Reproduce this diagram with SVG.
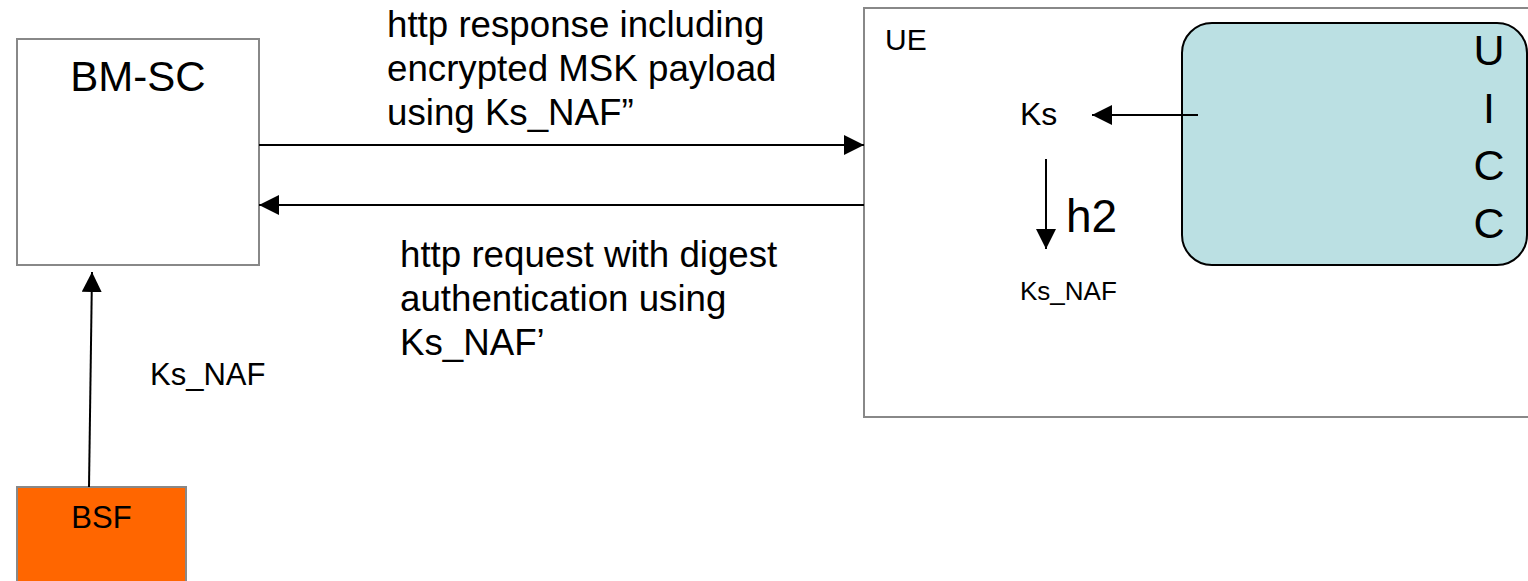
<svg xmlns="http://www.w3.org/2000/svg" width="1528" height="581" viewBox="0 0 1528 581">
<style>
  text { font-family: "Liberation Sans", Arial, sans-serif; fill: #000; }
  .box { fill: #fff; stroke: #888; stroke-width: 2; }
  .bsf { fill: #FF6600; stroke: #888; stroke-width: 2; }
  .uicc { fill: #BBE0E3; stroke: #000; stroke-width: 2; }
  .conn { stroke: #000; stroke-width: 2; fill: none; }
  .big { font-size: 36.7px; }
</style>
<defs>
  <marker id="arr" viewBox="0 0 20 20" refX="20" refY="10" markerWidth="20" markerHeight="20" markerUnits="userSpaceOnUse" orient="auto">
    <path d="M0,0 L20,10 L0,20 Z" fill="#000"/>
  </marker>
</defs>
<rect width="1528" height="581" fill="#fff"/>

<g id="bmsc">
  <rect class="box" x="17" y="39" width="242" height="226"/>
  <text x="138" y="91" font-size="42" text-anchor="middle">BM-SC</text>
</g>

<g id="bsf">
  <rect class="bsf" x="17" y="487" width="169" height="100"/>
  <text x="101.5" y="528" font-size="31" text-anchor="middle">BSF</text>
</g>

<g id="ue">
  <rect class="box" x="864" y="8" width="670" height="409"/>
  <text x="885" y="50" font-size="30">UE</text>
  <text x="1020" y="125" font-size="32">Ks</text>
  <text x="1066" y="232" font-size="46">h2</text>
  <text x="1020" y="300" font-size="26">Ks_NAF</text>
</g>

<g id="uicc">
  <rect class="uicc" x="1182" y="23" width="345" height="242" rx="30" ry="30"/>
  <text x="1489" y="65" font-size="43" text-anchor="middle">U</text>
  <text x="1489" y="123" font-size="43" text-anchor="middle">I</text>
  <text x="1489" y="180" font-size="43" text-anchor="middle">C</text>
  <text x="1489" y="238" font-size="43" text-anchor="middle">C</text>
</g>

<g id="connectors">
  <line class="conn" x1="259" y1="145" x2="864" y2="145" marker-end="url(#arr)"/>
  <line class="conn" x1="864" y1="205" x2="259" y2="205" marker-end="url(#arr)"/>
  <line class="conn" x1="89" y1="487" x2="92" y2="272" marker-end="url(#arr)"/>
  <line class="conn" x1="1198" y1="115" x2="1092" y2="115" marker-end="url(#arr)"/>
  <line class="conn" x1="1046" y1="159" x2="1046" y2="249" marker-end="url(#arr)"/>
</g>

<g id="labels">
  <text class="big" x="387" y="37">http response including</text>
  <text class="big" x="387" y="81">encrypted MSK payload</text>
  <text class="big" x="387" y="125">using Ks_NAF”</text>
  <text class="big" x="400" y="267">http request with digest</text>
  <text class="big" x="400" y="311">authentication using</text>
  <text class="big" x="400" y="355">Ks_NAF’</text>
  <text x="150" y="385" font-size="31">Ks_NAF</text>
</g>
</svg>
